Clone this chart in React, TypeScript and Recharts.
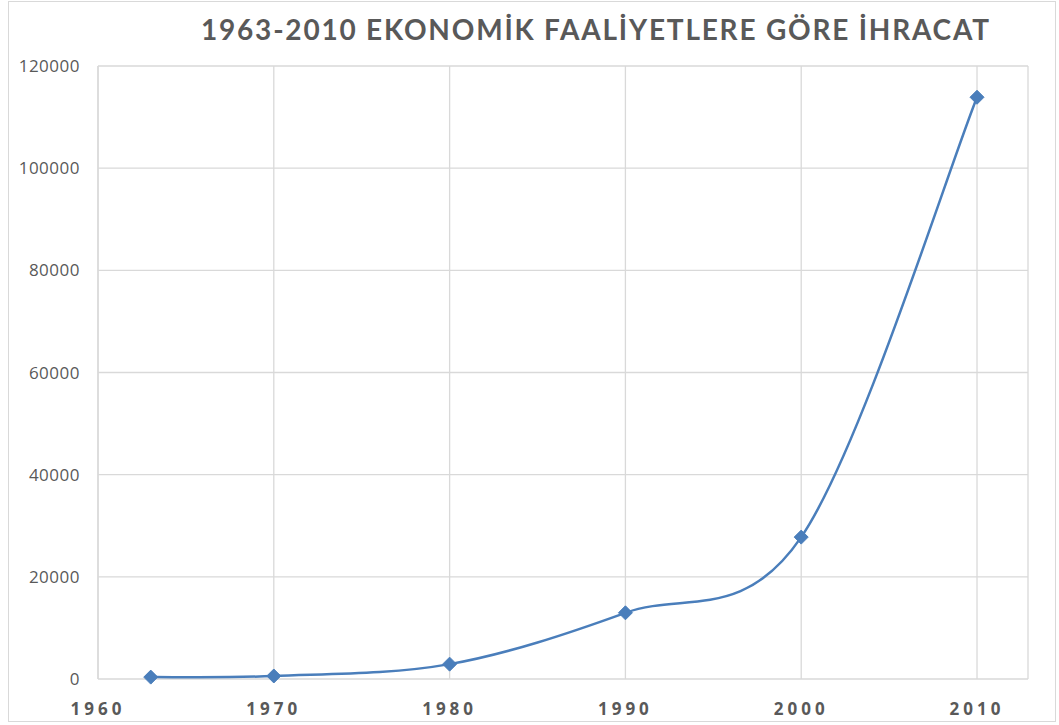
import React from 'react';
import {
  CartesianGrid, Line, LineChart, XAxis, YAxis,
} from 'recharts';

const years = [1963, 1970, 1980, 1990, 2000, 2010];
const exports = [368, 588, 2910, 12959, 27775, 113883];
const xTicks = [1960, 1970, 1980, 1990, 2000, 2010];
const yTicks = [0, 20000, 40000, 60000, 80000, 100000, 120000];

const data = years.map((year, i) => ({ year, value: exports[i] }));

const TEXT = '#595959';
const GRID = '#D9D9D9';
const BLUE = '#4A7EBB';

// Excel-style smoothed line (uniform Catmull-Rom as cubic beziers)
const excelSmooth = (ctx: any) => {
  let pts: [number, number][] = [];
  return {
    areaStart() {},
    areaEnd() {},
    lineStart() { pts = []; },
    point(x: number, y: number) { pts.push([x, y]); },
    lineEnd() {
      if (!pts.length) return;
      ctx.moveTo(pts[0][0], pts[0][1]);
      for (let i = 0; i < pts.length - 1; i++) {
        const p0 = pts[i - 1] || pts[i];
        const p1 = pts[i];
        const p2 = pts[i + 1];
        const p3 = pts[i + 2] || p2;
        ctx.bezierCurveTo(
          p1[0] + (p2[0] - p0[0]) / 6, p1[1] + (p2[1] - p0[1]) / 6,
          p2[0] - (p3[0] - p1[0]) / 6, p2[1] - (p3[1] - p1[1]) / 6,
          p2[0], p2[1],
        );
      }
    },
  };
};

const Diamond = (props: any) => {
  const { cx, cy } = props;
  if (cx == null || cy == null) return null;
  const r = 7;
  return (
    <path
      d={`M${cx},${cy - r}L${cx + r},${cy}L${cx},${cy + r}L${cx - r},${cy}Z`}
      fill={BLUE}
      stroke={BLUE}
      strokeWidth={1}
    />
  );
};

const App = () => (
  <div style={{ position: 'absolute', left: 0, top: 0, width: 1059, height: 725, background: '#fff' }}>
    <LineChart
      width={1059}
      height={725}
      data={data}
      margin={{ top: 66, right: 31, bottom: 0, left: 8 }}
    >
      <rect x={8.5} y={1.5} width={1047} height={720} fill="none" stroke={GRID} />
      <text
        x={595}
        y={40}
        textAnchor="middle"
        textLength={788}
        lengthAdjust="spacing"
        fill={TEXT}
        style={{ fontFamily: 'Lato', fontWeight: 700, fontSize: 28 }}
      >
        1963-2010 EKONOMİK FAALİYETLERE GÖRE İHRACAT
      </text>
      <CartesianGrid stroke={GRID} strokeWidth={1.3} />
      <XAxis
        dataKey="year"
        type="number"
        domain={[1960, 2012.9]}
        ticks={xTicks}
        allowDataOverflow
        axisLine={false}
        tickLine={false}
        tickSize={0}
        tickMargin={24}
        height={46}
        tick={{ fill: TEXT, fontSize: 17, fontWeight: 700, letterSpacing: 4, fontFamily: 'Open Sans' }}
      />
      <YAxis
        domain={[0, 120000]}
        ticks={yTicks}
        axisLine={{ stroke: GRID, strokeWidth: 1.3 }}
        tickLine={false}
        tickSize={0}
        tickMargin={18}
        width={90}
        tick={{ fill: TEXT, fontSize: 17, fontFamily: 'Open Sans', letterSpacing: 0.5 }}
      />
      <Line
        dataKey="value"
        type={excelSmooth as any}
        stroke={BLUE}
        strokeWidth={2.5}
        dot={<Diamond />}
        activeDot={false}
        isAnimationActive={false}
      />
    </LineChart>
  </div>
);

export default App;
